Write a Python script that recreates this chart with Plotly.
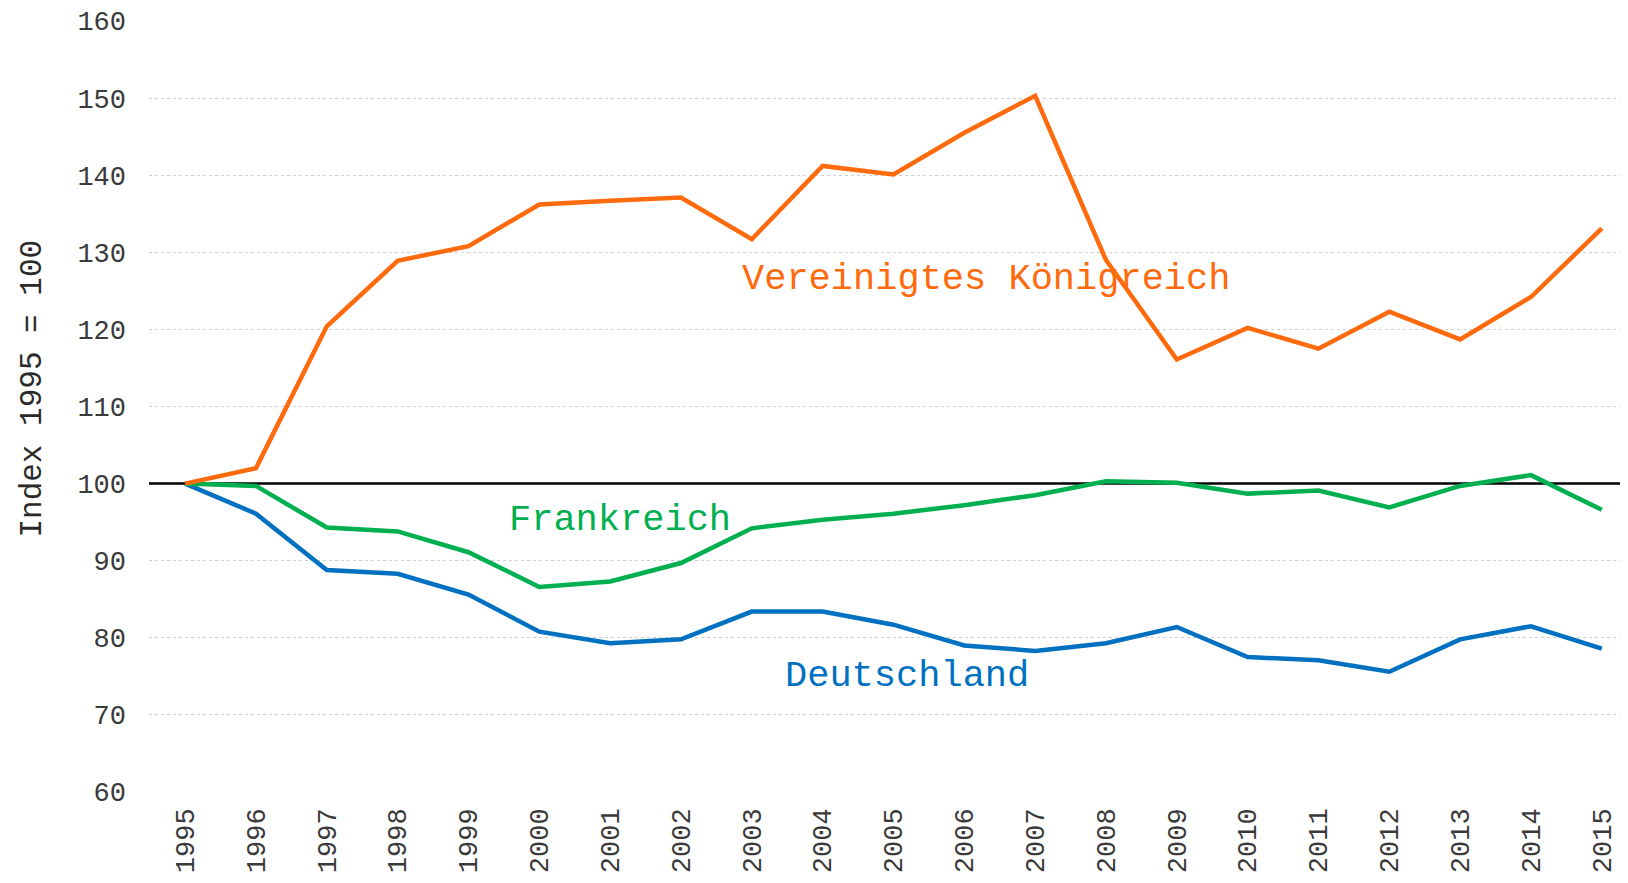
import plotly.graph_objects as go

years = list(range(1995, 2016))
uk = [100, 102.0, 120.4, 128.9, 130.8, 136.2, 136.7, 137.1, 131.7, 141.2, 140.1,
      145.5, 150.3, 129.0, 116.1, 120.2, 117.5, 122.3, 118.7, 124.2, 133.1]
fr = [100, 99.7, 94.3, 93.8, 91.1, 86.6, 87.3, 89.7, 94.2, 95.3, 96.1,
      97.2, 98.5, 100.3, 100.1, 98.7, 99.1, 96.9, 99.7, 101.1, 96.6]
de = [100, 96.1, 88.8, 88.3, 85.6, 80.8, 79.3, 79.8, 83.4, 83.4, 81.7,
      79.0, 78.3, 79.3, 81.4, 77.5, 77.1, 75.6, 79.8, 81.5, 78.6]
y_ticks = list(range(60, 161, 10))
x_ticklabels = [str(y) for y in years]
base_value = 100

FONT = "Courier New, Liberation Mono, monospace"
C_UK, C_FR, C_DE = "#FF6A0D", "#00B050", "#0070C0"
x_range = [1994.49, 2015.37]

fig = go.Figure()
# baseline at index = 100, drawn under the series
fig.add_trace(go.Scatter(x=x_range, y=[base_value, base_value], mode="lines",
                         line=dict(color="black", width=2.5), hoverinfo="skip"))
for name, vals, col in [("Deutschland", de, C_DE), ("Frankreich", fr, C_FR),
                        ("Vereinigtes Königreich", uk, C_UK)]:
    fig.add_trace(go.Scatter(x=years, y=vals, mode="lines", name=name,
                             line=dict(color=col, width=4.5)))

ann_font = dict(family=FONT, size=37)
fig.add_annotation(x=2002.84, y=126.6, text="Vereinigtes Königreich", showarrow=False,
                   xanchor="left", yanchor="middle", font=dict(ann_font, color=C_UK))
fig.add_annotation(x=1999.55, y=95.3, text="Frankreich", showarrow=False,
                   xanchor="left", yanchor="middle", font=dict(ann_font, color=C_FR))
fig.add_annotation(x=2003.44, y=75.1, text="Deutschland", showarrow=False,
                   xanchor="left", yanchor="middle", font=dict(ann_font, color=C_DE))

W, H = 1620, 875
ML, MT, MB, MR = 140.5, 13, 91, 0
pw, ph = W - ML - MR, H - MT - MB
fig.add_annotation(xref="paper", yref="paper", x=(23 - ML) / pw, y=(H - MB - 381) / ph,
                   text="Index 1995 = 100", textangle=-90, showarrow=False,
                   xanchor="center", yanchor="middle",
                   font=dict(family=FONT, size=31, color="#2a2a2a"))

fig.update_layout(
    width=W, height=H,
    margin=dict(l=ML, r=MR, t=MT, b=MB),
    plot_bgcolor="white", paper_bgcolor="white",
    showlegend=False,
    font=dict(family=FONT, size=27, color="#3a3a3a"),
    xaxis=dict(range=x_range, tickvals=years, ticktext=x_ticklabels,
               tickangle=-90, showgrid=False, zeroline=False, showline=False,
               ticks="", ticklabelstandoff=10),
    yaxis=dict(range=[60, 160], tickvals=y_ticks, showgrid=True, gridcolor="#cfcfcf",
               griddash="dot", gridwidth=1, zeroline=False, showline=False,
               ticks="", ticklabelstandoff=22),
)

fig.write_html("out.html")
